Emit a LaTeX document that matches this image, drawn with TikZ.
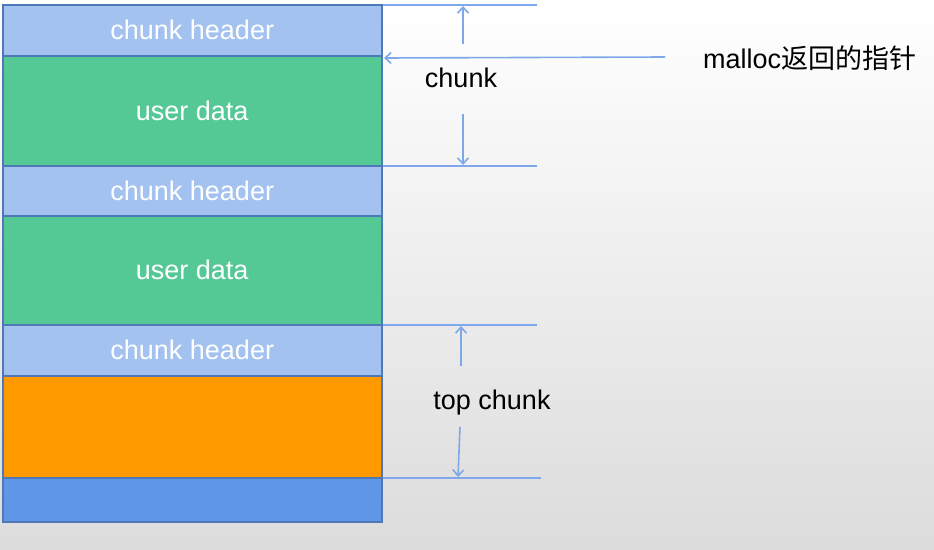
\documentclass[tikz,border=0pt]{standalone}
\usepackage{fontspec}
\usetikzlibrary{arrows.meta}
\setmainfont{Liberation Sans}
\newfontfamily\cjk{Noto Sans CJK SC}
\definecolor{hdr}{HTML}{A3C2F0}
\definecolor{usr}{HTML}{55C995}
\definecolor{org}{HTML}{FF9900}
\definecolor{bot}{HTML}{5F97E6}
\definecolor{edge}{HTML}{4F78B8}
\definecolor{lin}{HTML}{7FA8EA}
\definecolor{bgtop}{HTML}{FFFFFF}
\definecolor{bgbot}{HTML}{DCDCDC}
\begin{document}
\begin{tikzpicture}[x=1pt,y=-1pt,
  blk/.style={draw=edge,line width=1.5pt,minimum width=379pt,inner sep=0pt,anchor=north west,text=white,font=\fontsize{27}{32}\selectfont},
  lbl/.style={font=\fontsize{27}{32}\selectfont,text=black},
  guide/.style={draw=lin,line width=1.6pt},
  arr/.style={draw=lin,line width=1.6pt,-{Straight Barb[length=6pt,width=11pt]}}]
\useasboundingbox (0,0) rectangle (934,549);
\shade[top color=bgtop,bottom color=bgbot] (0,0) rectangle (934,549);
\node[blk,fill=hdr,minimum height=51pt] (h1) at (2,4) {chunk header};
\node[blk,fill=usr,minimum height=110pt] (u1) at (2,55) {user data};
\node[blk,fill=hdr,minimum height=50pt] (h2) at (2,165) {chunk header};
\node[blk,fill=usr,minimum height=109pt] (u2) at (2,215) {user data};
\node[blk,fill=hdr,minimum height=51pt] (h3) at (2,324) {chunk header};
\node[blk,fill=org,minimum height=102pt] (tc) at (2,375) {};
\node[blk,fill=bot,minimum height=44pt] (bt) at (2,477) {};
% guide lines
\coordinate (g1a) at (383,5); \coordinate (g1b) at (537,5);
\coordinate (g2a) at (383,166); \coordinate (g2b) at (537,166);
\coordinate (g3a) at (383,325); \coordinate (g3b) at (537,325);
\coordinate (g4a) at (383,478); \coordinate (g4b) at (541,478);
\draw[guide] (g1a) -- (g1b);
\draw[guide] (g2a) -- (g2b);
\draw[guide] (g3a) -- (g3b);
\draw[guide] (g4a) -- (g4b);
% malloc pointer
\node[lbl,anchor=west,inner sep=0pt] (mp) at (703,58) {malloc{\cjk 返回的指针}};
\coordinate (mps) at (665,57); \coordinate (mpe) at (384,58);
\draw[arr] (mps) -- (mpe);
% chunk
\node[lbl] (ch) at (461,78) {chunk};
\coordinate (c1s) at (463,44); \coordinate (c1e) at (463,6);
\coordinate (c2s) at (463,114); \coordinate (c2e) at (463,165);
\draw[arr] (c1s) -- (c1e);
\draw[arr] (c2s) -- (c2e);
% top chunk
\node[lbl] (tp) at (492,403) {top chunk};
\coordinate (t1s) at (461,366); \coordinate (t1e) at (461,326);
\coordinate (t2s) at (460,427); \coordinate (t2e) at (458,477);
\draw[arr] (t1s) -- (t1e);
\draw[arr] (t2s) -- (t2e);
\end{tikzpicture}
\end{document}
